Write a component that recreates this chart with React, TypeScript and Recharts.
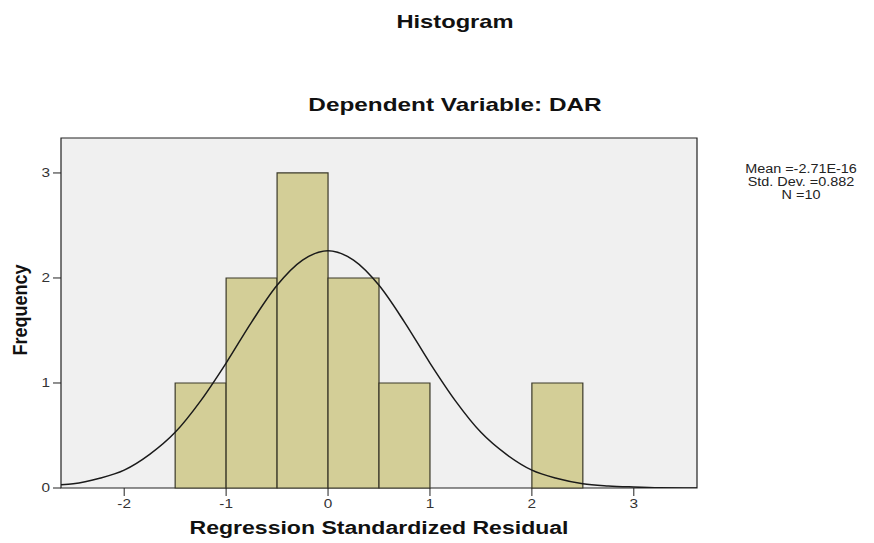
import React from 'react'
import { ComposedChart, Line, XAxis, YAxis, ReferenceArea } from 'recharts'

// histogram bins (residual intervals) and their counts
const binStart = [-1.5, -1.0, -0.5, 0.0, 0.5, 2.0]
const binEnd = [-1.0, -0.5, 0.0, 0.5, 1.0, 2.5]
const binCount = [1, 2, 3, 2, 1, 1]

// normal curve
const curveX = [-2.62, -2.5, -2.25, -2.0, -1.75, -1.5, -1.25, -1.0, -0.75, -0.5, -0.25, 0, 0.25, 0.5, 0.75, 1.0, 1.25, 1.5, 1.75, 2.0, 2.25, 2.5, 2.75, 3.0, 3.25, 3.5, 3.62]
const curveY = [0.03, 0.04, 0.09, 0.17, 0.32, 0.53, 0.83, 1.19, 1.58, 1.93, 2.17, 2.26, 2.17, 1.93, 1.58, 1.19, 0.83, 0.53, 0.32, 0.17, 0.09, 0.04, 0.02, 0.01, 0.003, 0.001, 0.0005]

const xDomain = [-2.62, 3.62]
const yDomain = [0, 3.333]
const xTicks = [-2, -1, 0, 1, 2, 3]
const yTicks = [0, 1, 2, 3]

const statLines = ['Mean =-2.71E-16', 'Std. Dev. =0.882', 'N =10']

const font = 'Arial, "Liberation Sans", sans-serif'
const SX = 1.28 // the source picture is stretched sideways

const XTick = ({ x, y, payload }: any) => (
  <g transform={`translate(${x},${y}) scale(${SX},1)`}>
    <text x={0} y={0} dy={11} textAnchor="middle" fontSize={12} fill="#333" fontFamily={font}>{payload.value}</text>
  </g>
)

const YTick = ({ x, y, payload }: any) => (
  <g transform={`translate(${x},${y}) scale(${SX},1)`}>
    <text x={0} y={0} dy={4} textAnchor="end" fontSize={12} fill="#333" fontFamily={font}>{payload.value}</text>
  </g>
)

const txt: React.CSSProperties = { position: 'absolute', whiteSpace: 'nowrap', fontWeight: 700, color: '#111', lineHeight: 1 }

export default function App() {
  const curve = curveX.map((x, i) => ({ x, y: curveY[i] }))

  return (
    <div style={{ position: 'absolute', left: 0, top: 0, width: 874, height: 543, background: '#fff', fontFamily: font, overflow: 'hidden' }}>
      <ComposedChart width={874} height={543} data={curve} margin={{ top: 138, right: 177, bottom: 0, left: 21 }}>
        <XAxis
          dataKey="x"
          type="number"
          domain={xDomain}
          ticks={xTicks}
          allowDataOverflow
          height={55}
          axisLine={false}
          tickSize={8}
          tickMargin={1}
          tickLine={{ stroke: '#222' }}
          tick={<XTick />}
        />
        <YAxis
          type="number"
          domain={yDomain}
          ticks={yTicks}
          allowDataOverflow
          width={40}
          axisLine={false}
          tickSize={8}
          tickMargin={3}
          tickLine={{ stroke: '#222' }}
          tick={<YTick />}
        />
        {/* plot background and frame */}
        <ReferenceArea x1={xDomain[0]} x2={xDomain[1]} y1={yDomain[0]} y2={yDomain[1]} fill="#f0f0f0" fillOpacity={1} stroke="#222" strokeWidth={1.2} strokeOpacity={1} />
        {binCount.map((c, i) => (
          <ReferenceArea key={i} x1={binStart[i]} x2={binEnd[i]} y1={0} y2={c} fill="#d3ce97" fillOpacity={1} stroke="#3a3828" strokeWidth={1.2} strokeOpacity={1} />
        ))}
        <Line dataKey="y" type="monotone" stroke="#1a1a1a" strokeWidth={1.5} dot={false} isAnimationActive={false} />
      </ComposedChart>

      <div style={{ ...txt, left: 455, top: 22, fontSize: 18.5, transform: `translate(-50%,-50%) scaleX(${SX})` }}>Histogram</div>
      <div style={{ ...txt, left: 455, top: 104, fontSize: 19, transform: `translate(-50%,-50%) scaleX(${SX})` }}>Dependent Variable: DAR</div>
      <div style={{ ...txt, left: 379, top: 528, fontSize: 18, transform: `translate(-50%,-50%) scaleX(${SX})` }}>Regression Standardized Residual</div>
      <div style={{ ...txt, left: 20, top: 310, fontSize: 18, transform: `translate(-50%,-50%) rotate(-90deg) scale(1,1.1)` }}>Frequency</div>
      <div style={{ position: 'absolute', left: 801, top: 163, width: 0, color: '#222', fontSize: 12, lineHeight: '13px' }}>
        {statLines.map((s) => (
          <div key={s} style={{ whiteSpace: 'nowrap', transform: `translateX(-50%) scaleX(1.2)`, width: 'max-content' }}>{s}</div>
        ))}
      </div>
    </div>
  )
}
